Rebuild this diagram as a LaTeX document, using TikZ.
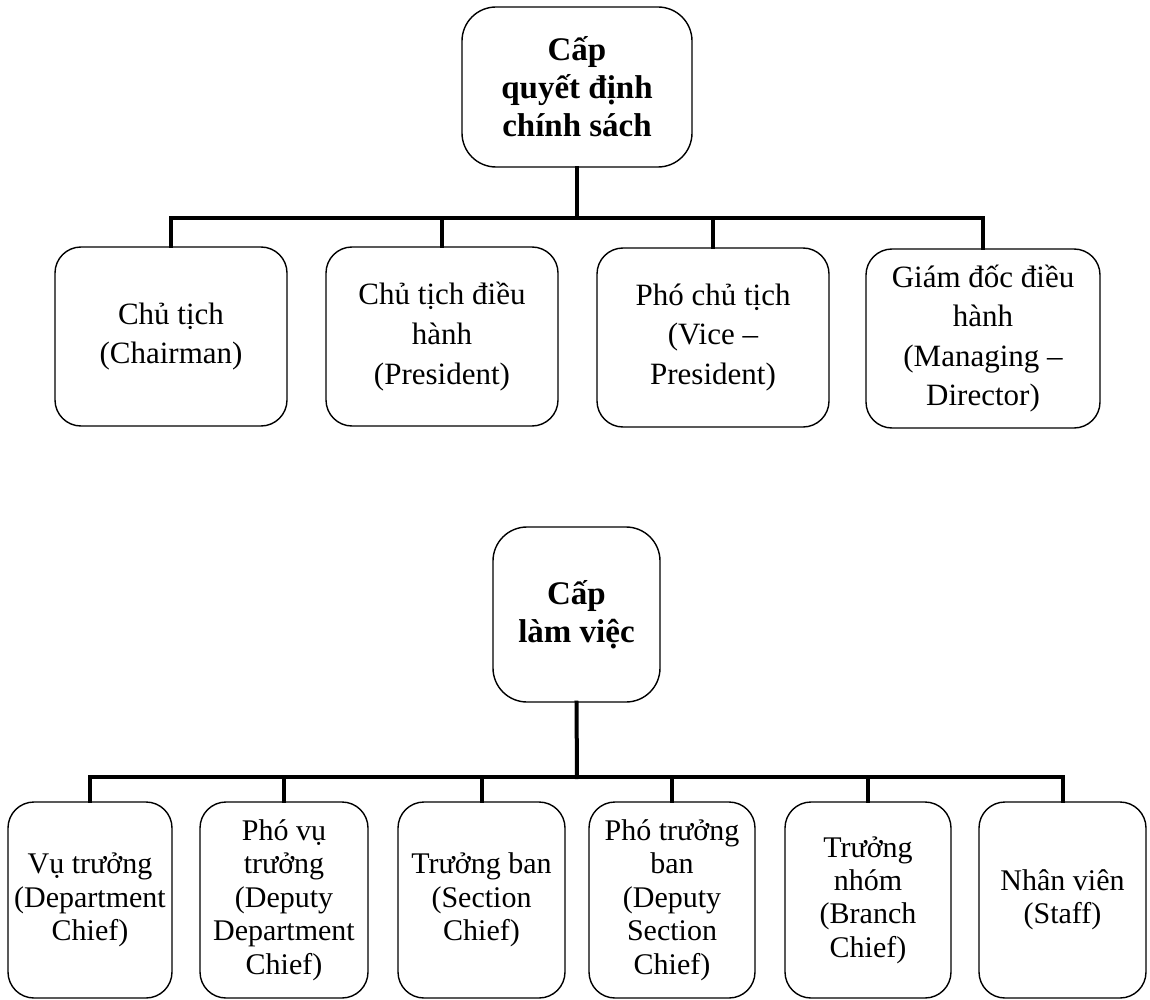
\documentclass[tikz,border=0pt]{standalone}
\usepackage{fontspec}
\setmainfont{Liberation Serif}
\begin{document}
\begin{tikzpicture}[x=0.5pt,y=-0.5pt,
  box/.style={draw=black, line width=0.7pt, rounded corners=13pt, align=center, inner sep=2pt},
  headbox/.style={box, rounded corners=17pt, font=\fontsize{16.5}{19}\selectfont\bfseries},
  rowa/.style={box, minimum width=116pt, minimum height=89.5pt, font=\fontsize{15.5}{19.8}\selectfont},
  rowb/.style={box, minimum height=98pt, font=\fontsize{15}{16.7}\selectfont},
  conn/.style={line width=2pt, line cap=rect}]
\useasboundingbox (0,0) rectangle (1150,1000);
% top part
\node[headbox, minimum width=115pt, minimum height=80pt] (top1) at (577,87) {Cấp\\quyết định\\chính sách};
\node[rowa] (c1) at (171,336.5) {Chủ tịch\\(Chairman)};
\node[rowa] (c2) at (442,336.5) {Chủ tịch điều\\hành\\(President)};
\node[rowa] (c3) at (713,337.5) {Phó chủ tịch\\(Vice –\\President)};
\node[rowa, minimum width=117pt] (c4) at (983,338.5) {Giám đốc điều\\hành\\(Managing –\\Director)};
\coordinate (j1) at (577,218);
\draw[conn] (top1.south) -- (j1);
\draw[conn] (c1.north) |- (j1) -| (c4.north);
\draw[conn] (c2.north) -- (c2.north |- j1);
\draw[conn] (c3.north) -- (c3.north |- j1);
% bottom part
\node[headbox, minimum width=83.5pt, minimum height=87.5pt] (top2) at (576.5,614.5) {Cấp\\làm việc};
\node[rowb, minimum width=82pt] (b1) at (90,900) {Vụ trưởng\\(Department\\Chief)};
\node[rowb, minimum width=84pt] (b2) at (284,900) {Phó vụ\\trưởng\\(Deputy\\Department\\Chief)};
\node[rowb, minimum width=83.5pt] (b3) at (481.5,900) {Trưởng ban\\(Section\\Chief)};
\node[rowb, minimum width=83pt] (b4) at (672,900) {Phó trưởng\\ban\\(Deputy\\Section\\Chief)};
\node[rowb, minimum width=83pt] (b5) at (868,900) {Trưởng\\nhóm\\(Branch\\Chief)};
\node[rowb, minimum width=83.5pt] (b6) at (1062.5,900) {Nhân viên\\(Staff)};
\coordinate (j2) at (577,777);
\draw[conn] (top2.south) -- (j2);
\draw[conn] (b1.north) |- (j2) -| (b6.north);
\draw[conn] (b2.north) -- (b2.north |- j2);
\draw[conn] (b3.north) -- (b3.north |- j2);
\draw[conn] (b4.north) -- (b4.north |- j2);
\draw[conn] (b5.north) -- (b5.north |- j2);
\end{tikzpicture}
\end{document}
